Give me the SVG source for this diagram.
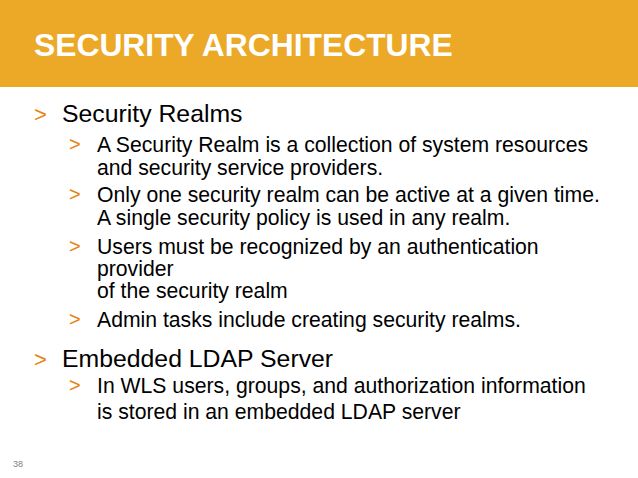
<svg xmlns="http://www.w3.org/2000/svg" width="638" height="478" viewBox="0 0 638 478">
<style>
text{font-family:"Liberation Sans",Arial,sans-serif;}
.t{font-size:31.8px;font-weight:bold;fill:#ffffff;}
.l1{font-size:24.8px;fill:#000000;}
.l2{font-size:21.2px;fill:#000000;}
.b1{font-size:22px;fill:#E8820C;}
.b2{font-size:20px;fill:#E8820C;}
.pg{font-size:9px;fill:#7f7f7f;}
</style>
<rect width="638" height="478" fill="#ffffff"/>
<g id="header">
<rect x="0" y="0" width="638" height="87" fill="#EBA927"/>
<text class="t" x="34" y="56">SECURITY ARCHITECTURE</text>
</g>
<g id="body">
<text class="b1" x="34" y="122">&gt;</text>
<text class="l1" x="62" y="122">Security Realms</text>
<text class="b2" x="69" y="151">&gt;</text>
<text class="l2" x="97" y="152">A Security Realm is a collection of system resources</text>
<text class="l2" x="97" y="175">and security service providers.</text>
<text class="b2" x="69" y="201">&gt;</text>
<text class="l2" x="97" y="202">Only one security realm can be active at a given time.</text>
<text class="l2" x="97" y="225">A single security policy is used in any realm.</text>
<text class="b2" x="69" y="253">&gt;</text>
<text class="l2" x="97" y="254">Users must be recognized by an authentication</text>
<text class="l2" x="97" y="276">provider</text>
<text class="l2" x="97" y="298">of the security realm</text>
<text class="b2" x="69" y="326">&gt;</text>
<text class="l2" x="97" y="327">Admin tasks include creating security realms.</text>
<text class="b1" x="34" y="367">&gt;</text>
<text class="l1" x="62" y="367">Embedded LDAP Server</text>
<text class="b2" x="69" y="392">&gt;</text>
<text class="l2" x="97" y="393">In WLS users, groups, and authorization information</text>
<text class="l2" x="97" y="419">is stored in an embedded LDAP server</text>
</g>
<text class="pg" x="13" y="467">38</text>
</svg>
